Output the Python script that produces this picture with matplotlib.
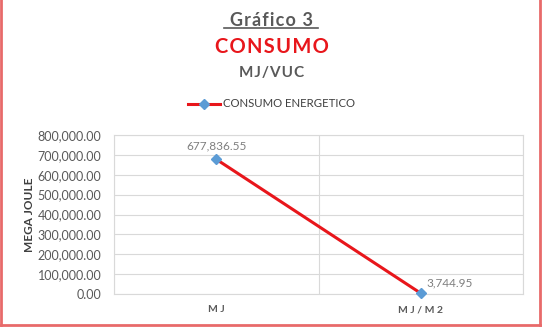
import matplotlib.pyplot as plt
from matplotlib.lines import Line2D

categories = ['M J', 'M J / M 2']
consumo = [677836.55, 3744.95]
labels = ['677,836.55', '3,744.95']
yticks = [0, 100000, 200000, 300000, 400000, 500000, 600000, 700000, 800000]

plt.rcParams['font.family'] = ['Lato', 'DejaVu Sans']

def spaced(s):
    # letter spacing like the original title
    return '\u200a'.join(s)

fig = plt.figure(figsize=(5.43, 3.27), dpi=100)
ax = fig.add_axes([114/543, 1 - 294/327, (523-114)/543, (294-135)/327])

xs = [0.5, 1.5]
ax.plot(xs, consumo, color='#e8161b', linewidth=2.2, marker='D', markersize=5.5,
        markerfacecolor='#5b9bd5', markeredgecolor='#5b9bd5', zorder=3, clip_on=False)
ax.text(xs[0], consumo[0] + 38000, labels[0], ha='center', va='bottom', fontsize=8.5, color='#7f7f7f')
ax.text(xs[1] + 0.03, consumo[1] + 25000, labels[1], ha='left', va='bottom', fontsize=8.5, color='#7f7f7f')

ax.set_xlim(0, 2)
ax.set_ylim(0, 800000)
ax.set_yticks(yticks)
ax.set_yticklabels([f'{v:,.2f}' for v in yticks], fontsize=9, color='#595959')
ax.set_xticks(xs)
ax.set_xticklabels(categories, fontsize=7.5, color='#595959', fontweight='bold')
ax.set_xticks([0, 1, 2], minor=True)
ax.tick_params(which='both', length=0)
ax.tick_params(axis='y', pad=9)
ax.tick_params(axis='x', pad=8)
ax.grid(True, axis='y', color='#d9d9d9', linewidth=0.8)
ax.grid(True, which='minor', axis='x', color='#d9d9d9', linewidth=0.8)
for s in ax.spines.values():
    s.set_color('#d9d9d9')
    s.set_linewidth(0.8)
ax.set_ylabel('MEGA JOULE', fontsize=8.5, fontweight='bold', color='#404040', labelpad=2)

fig.text(0.5, 1 - 20/327, spaced('Gráfico 3'), ha='center', va='center', fontsize=13,
         fontweight='bold', color='#595959')
fig.add_artist(Line2D([224/543, 318/543], [1 - 28/327, 1 - 28/327], color='#595959', linewidth=1.2))
fig.text(0.5, 1 - 47/327, spaced('CONSUMO'), ha='center', va='center', fontsize=14.5,
         fontweight='bold', color='#e8161b')
fig.text(0.5, 1 - 73/327, spaced('MJ/VUC'), ha='center', va='center', fontsize=11,
         fontweight='bold', color='#595959')

leg_handle = Line2D([], [], color='#e8161b', linewidth=2.2, marker='D', markersize=5,
                    markerfacecolor='#5b9bd5', markeredgecolor='#5b9bd5')
fig.legend([leg_handle], ['CONSUMO ENERGETICO'], loc='center', bbox_to_anchor=(0.5, 1 - 104/327),
           frameon=False, fontsize=8.2, handlelength=2.8, handletextpad=0.3, labelcolor='#404040')

for x0, y0, x1, y1 in [(1/543, 1, 1/543, 2/327), (1/543, 2/327, 540/543, 2/327), (540/543, 2/327, 540/543, 1)]:
    fig.add_artist(Line2D([x0, x1], [y0, y1], color='#e86a6a', linewidth=2))

fig.savefig('out.png', dpi=100)
